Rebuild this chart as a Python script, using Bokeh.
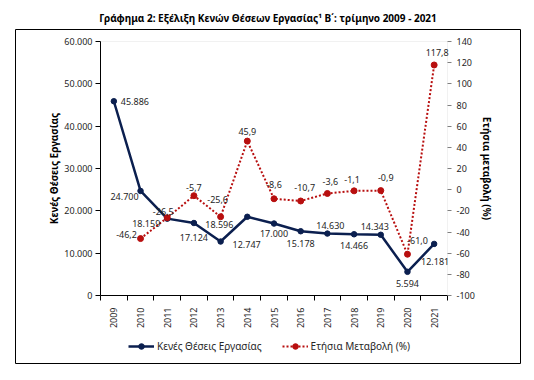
from bokeh.plotting import figure
from bokeh.models import (Range1d, LinearAxis, FixedTicker, Legend, LegendItem,
                          BoxAnnotation, Title)
from bokeh.core.properties import value
from bokeh.embed import file_html
from bokeh.resources import INLINE

# ---------------- data ----------------
years = [2009, 2010, 2011, 2012, 2013, 2014, 2015, 2016, 2017, 2018, 2019, 2020, 2021]
vacancies = [45886, 24700, 18159, 17124, 12747, 18596, 17000, 15178, 14630, 14466, 14343, 5594, 12181]
change_years = [2010, 2011, 2012, 2013, 2014, 2015, 2016, 2017, 2018, 2019, 2020, 2021]
annual_change = [-46.2, -26.5, -5.7, -25.6, 45.9, -8.6, -10.7, -3.6, -1.1, -0.9, -61.0, 117.8]

left_ticks = [0, 10000, 20000, 30000, 40000, 50000, 60000]
left_tick_labels = ["0", "10.000", "20.000", "30.000", "40.000", "50.000", "60.000"]
right_ticks = [-100, -80, -60, -40, -20, 0, 20, 40, 60, 80, 100, 120, 140]
right_tick_labels = ["-100", "-80", "-60", "-40", "-20", "0", "20", "40", "60", "80", "100", "120", "140"]

title_text = "Γράφημα 2: Εξέλιξη Κενών Θέσεων Εργασίας¹ Β΄: τρίμηνο 2009 - 2021"
left_title = "Κενές Θέσεις Εργασίας"
right_title = "Ετήσια μεταβολή (%)"
series1_name = "Κενές Θέσεις Εργασίας"
series2_name = "Ετήσια Μεταβολή (%)"

# label texts formatted from the data
vac_labels = [f"{v:,}".replace(",", ".") for v in vacancies]
chg_labels = [f"{c:.1f}".replace(".", ",") for c in annual_change]

# label placement (screen pixel offsets, style only)
vac_dx = [21, -16, -21, 0, 26, -28, 0, 0, 3, 0, -6, 0, 1]
vac_dy = [0, 6, 5, 14, 3, 8, 10, 12, -8, 11, -8, 12, 18]
chg_dx = [-14, -4, 0, -3, 0, 0, 4, 3, -2, 5, 10, 3]
chg_dy = [-4, -6, -8, -17, -10, -14, -13, -12, -11, -13, -14, -12]

# ---------------- layout (pixels) ----------------
W, H = 526, 372
BOX_L, BOX_R, BOX_T, BOX_B = 15, 520, 29, 363      # outer chart border
PA_L, PA_R, PA_T, PA_B = 100, 447, 41, 295          # plot area

X0, X1 = years[0] - 0.5, years[-1] + 0.5
Y0, Y1 = left_ticks[0], left_ticks[-1]
P0, P1 = right_ticks[0], right_ticks[-1]
xpp = (X1 - X0) / (PA_R - PA_L)
ypp = (Y1 - Y0) / (PA_B - PA_T)
ppp = (P1 - P0) / (PA_B - PA_T)

x_range = Range1d(X0 - (PA_L - BOX_L) * xpp, X1 + (BOX_R - PA_R) * xpp)
y_range = Range1d(Y0 - (BOX_B - PA_B) * ypp, Y1 + (PA_T - BOX_T) * ypp)
p_range = Range1d(P0 - (BOX_B - PA_B) * ppp, P1 + (PA_T - BOX_T) * ppp)

# ---------------- style ----------------
FONT = "Noto Sans"
BLUE = "#0B1F4F"
RED = "#B80F0F"
TXT = "#262626"

p = figure(width=W, height=H, x_range=x_range, y_range=y_range,
           output_backend="svg", toolbar_location=None,
           min_border_left=BOX_L, min_border_right=W - BOX_R,
           min_border_top=BOX_T, min_border_bottom=H - BOX_B,
           outline_line_color="black", outline_line_width=1,
           border_fill_color="white", background_fill_color="white")
p.title = Title(text=title_text, align="center", text_font=FONT,
                text_font_size="10px", text_font_style="bold",
                text_color="black", standoff=10, offset=-3)
p.extra_y_ranges = {"pct": p_range}
p.xgrid.visible = False
p.ygrid.visible = False

# plot-area border
p.add_layout(BoxAnnotation(left=X0, right=X1, bottom=Y0, top=Y1,
                           fill_alpha=0, line_color="#d0d0d0", line_width=1,
                           level="underlay"))

# bottom axis (years)
xa = p.xaxis[0]
xa.fixed_location = Y0
xa.bounds = (X0, X1)
xa.ticker = FixedTicker(ticks=years, minor_ticks=[y - 0.5 for y in years] + [years[-1] + 0.5])
xa.major_label_orientation = 1.5707963
xa.major_tick_line_color = None
xa.major_tick_out = 0
xa.major_tick_in = 0
xa.minor_tick_in = 0
xa.minor_tick_out = 5
xa.minor_tick_line_color = "black"
xa.axis_line_color = "black"
xa.major_label_standoff = 7
xa.major_label_text_font = FONT
xa.major_label_text_font_size = "9px"
xa.major_label_text_color = TXT

# left axis
ya = p.yaxis[0]
ya.fixed_location = X0
ya.bounds = (Y0, Y1)
ya.ticker = FixedTicker(ticks=left_ticks)
ya.major_label_overrides = dict(zip(left_ticks, left_tick_labels))
ya.minor_tick_line_color = None
ya.major_tick_in = 0
ya.major_tick_out = 5
ya.major_tick_line_color = "black"
ya.axis_line_color = "black"
ya.major_label_standoff = 3
ya.major_label_text_font = FONT
ya.major_label_text_font_size = "9px"
ya.major_label_text_color = TXT
ya.axis_label = left_title
ya.axis_label_text_font = FONT
ya.axis_label_text_font_size = "10px"
ya.axis_label_text_font_style = "bold"
ya.axis_label_text_color = "black"
ya.axis_label_standoff = 0

# right axis
ra = LinearAxis(y_range_name="pct", ticker=FixedTicker(ticks=right_ticks),
                fixed_location=X1, bounds=(P0, P1))
ra.major_label_overrides = dict(zip(right_ticks, right_tick_labels))
ra.minor_tick_line_color = None
ra.major_tick_in = 0
ra.major_tick_out = 4
ra.major_tick_line_color = "#808080"
ra.axis_line_color = None
ra.major_label_standoff = 5
ra.major_label_text_font = FONT
ra.major_label_text_font_size = "9px"
ra.major_label_text_color = TXT
ra.axis_label = right_title
ra.axis_label_text_font = FONT
ra.axis_label_text_font_size = "10px"
ra.axis_label_text_font_style = "bold"
ra.axis_label_text_color = "black"
ra.axis_label_standoff = 2
p.add_layout(ra, "right")

# series
l1 = p.line(years, vacancies, line_color=BLUE, line_width=2.5)
s1 = p.scatter(years, vacancies, size=5.5, color=BLUE)
l2 = p.line(change_years, annual_change, y_range_name="pct",
            line_color=RED, line_width=2, line_dash="2 2")
s2 = p.scatter(change_years, annual_change, y_range_name="pct", size=6, color=RED)

p.text(x=years, y=vacancies, text=vac_labels, x_offset=vac_dx, y_offset=vac_dy,
       text_align="center", text_baseline="middle", text_font=value(FONT),
       text_font_size="9px", text_color=TXT)
p.text(x=change_years, y=annual_change, text=chg_labels, x_offset=chg_dx, y_offset=chg_dy,
       y_range_name="pct", text_align="center", text_baseline="middle",
       text_font=value(FONT), text_font_size="9px", text_color=TXT)

legend = Legend(items=[LegendItem(label=series1_name, renderers=[l1, s1]),
                       LegendItem(label=series2_name, renderers=[l2, s2])],
                orientation="horizontal", location=(132 - 4 - BOX_L, BOX_B - 353),
                border_line_color=None, background_fill_alpha=0,
                label_text_font=FONT, label_text_font_size="10px",
                label_text_color=TXT, glyph_width=26, glyph_height=14,
                label_standoff=3, spacing=20, padding=4, margin=0)
p.add_layout(legend)

open("out.html", "w").write(file_html(p, INLINE))
